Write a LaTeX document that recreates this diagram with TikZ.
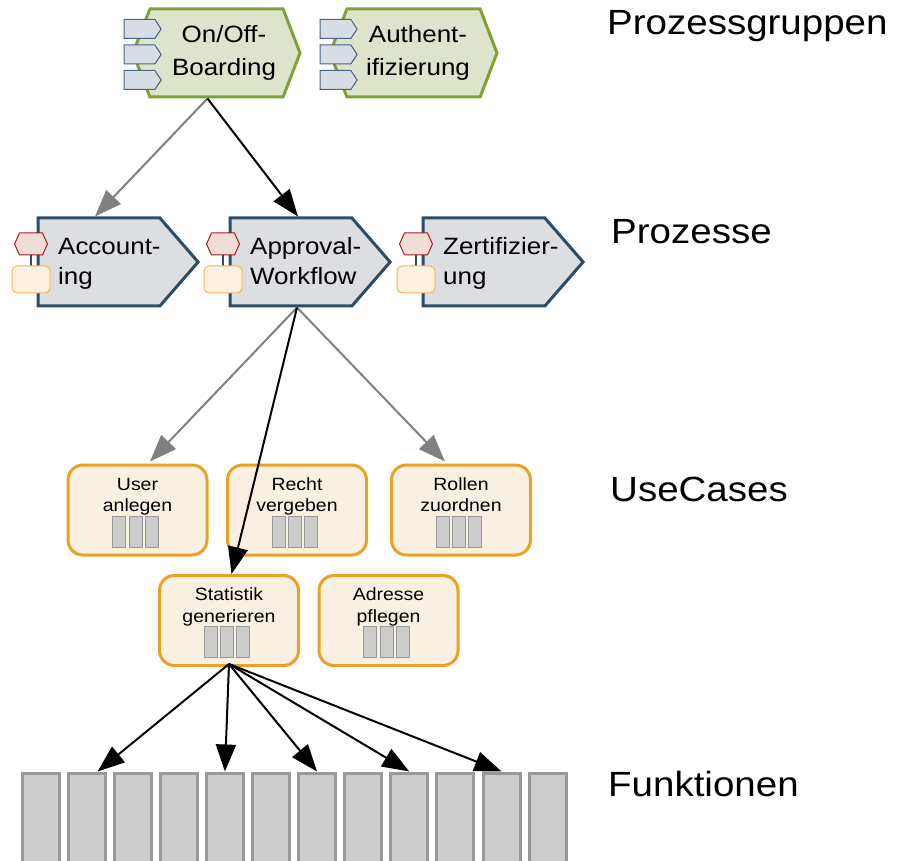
\documentclass[tikz,border=0pt]{standalone}
\usepackage{fontspec}
\setmainfont{Liberation Sans}[FakeStretch=1.1]
\usetikzlibrary{arrows.meta}
\usetikzlibrary{calc}
\usetikzlibrary{shapes.symbols}
\definecolor{pgfill}{RGB}{222,228,204}
\definecolor{pgline}{RGB}{128,160,56}
\definecolor{tabfill}{RGB}{216,221,229}
\definecolor{tabline}{RGB}{70,100,130}
\definecolor{procfill}{RGB}{220,222,226}
\definecolor{procline}{RGB}{44,76,104}
\definecolor{hexfill}{RGB}{240,221,213}
\definecolor{hexline}{RGB}{160,30,30}
\definecolor{evfill}{RGB}{252,241,222}
\definecolor{evline}{RGB}{240,184,90}
\definecolor{ucfill}{RGB}{250,240,225}
\definecolor{ucline}{RGB}{232,162,36}
\definecolor{fnfill}{RGB}{204,204,204}
\definecolor{fnline}{RGB}{153,153,153}
\definecolor{grayarrow}{RGB}{128,128,128}
\tikzset{pgshape/.style={signal,signal to=east and west,signal pointer angle=138,
		minimum width=167pt,minimum height=88pt,fill=pgfill,draw=pgline,line width=3pt,inner sep=0pt},
	pgtab/.style={signal,signal to=east,signal pointer angle=113,
		minimum width=37pt,minimum height=19pt,fill=tabfill,draw=tabline,line width=1pt,inner sep=0pt},
	procshape/.style={signal,signal to=east,signal pointer angle=98,
		minimum width=160pt,minimum height=88pt,fill=procfill,draw=procline,line width=3pt,inner sep=0pt},
	hexicon/.style={signal,signal to=east and west,signal pointer angle=131,
		minimum width=33pt,minimum height=22pt,fill=hexfill,draw=hexline,line width=1pt,inner sep=0pt},
	evicon/.style={rectangle,rounded corners=5pt,minimum width=38pt,minimum height=27pt,
		fill=evfill,draw=evline,line width=1pt,inner sep=0pt},
	usecase/.style={rectangle,rounded corners=15pt,minimum width=139pt,minimum height=90pt,
		fill=ucfill,draw=ucline,line width=3pt,inner sep=0pt,align=center,
		font=\fontsize{17.7}{21.7}\selectfont,text height=40.7pt,text depth=37.3pt},
	minibox/.style={rectangle,minimum width=13pt,minimum height=31pt,fill=fnfill,draw=fnline,line width=0.8pt,inner sep=0pt},
	fnbox/.style={rectangle,minimum width=37pt,minimum height=100pt,fill=fnfill,draw=fnline,line width=3pt,inner sep=0pt},
	bigtext/.style={inner sep=0pt},
	levelname/.style={font=\fontsize{35}{40}\selectfont,anchor=base west,inner sep=0pt}}

\begin{document}
\begin{tikzpicture}[x=1pt,y=-1pt]
	\useasboundingbox (0,0) rectangle (898,861);
	\clip (0,0) rectangle (898,861);
	% Prozessgruppen
	\node[pgshape] (onoff) at (216.5,53) {};
	\node[pgshape] (auth) at (413.5,53) {};
	\begin{scope}[every node/.style={pgtab}]
		\foreach \y/\k in {29/a,54.5/b,80/c} {
			\node (onoff\k) at (139.5,\y) {};
			\node (auth\k) at (335.5,\y) {};
		}
	\end{scope}
	\begin{scope}[every node/.style={bigtext,anchor=base,align=center,font=\fontsize{23.6}{33}\selectfont}]
		\node (onoffT) at (224,76) {On/Off-\\Boarding};
		\node (authT) at (418,76) {Authent-\\ifizierung};
	\end{scope}
	% Prozesse
	\begin{scope}[every node/.style={procshape}]
		\node (acc) at (99,262) {};
		\node (appr) at (291,262) {};
		\node (zert) at (484,262) {};
	\end{scope}
	\foreach \p/\x in {acc/31,appr/223,zert/416} {
		\coordinate (\p hx) at (\x,244);
		\coordinate (\p ev) at (\x,279.5);
		\draw[procline,line width=1.5pt] (\p hx) -- (\p ev);
		\node[hexicon] (\p hex) at (\p hx) {};
		\node[evicon] (\p evt) at (\p ev) {};
	}
	\begin{scope}[every node/.style={bigtext,anchor=base west,align=left,font=\fontsize{23.6}{30}\selectfont}]
		\node (accT) at (58,285) {Account-\\ing};
		\node (apprT) at (250,285) {Approval-\\Workflow};
		\node (zertT) at (443,285) {Zertifizier-\\ung};
	\end{scope}
	% UseCases
	\begin{scope}[every node/.style={usecase}]
		\node (user) at (137.5,510) {User\\anlegen};
		\node (recht) at (297,510) {Recht\\vergeben};
		\node (rollen) at (461,510) {Rollen\\zuordnen};
		\node (stat) at (229,620.5) {Statistik\\generieren};
		\node (addr) at (388.5,620.5) {Adresse\\pflegen};
	\end{scope}
	\foreach \u in {user,recht,rollen,stat,addr}
		\foreach \dx/\k in {-18.3/a,-2/b,14.3/c}
			\node[minibox] (\u\k) at ($(\u.center)+(\dx,21.5)$) {};
	% Funktionen
	\foreach \i in {1,...,12}
		\node[fnbox] (f\i) at ({40.5+(\i-1)*46.1},823) {};
	% Ebenen
	\node[levelname] (lpg) at (607,35) {Prozessgruppen};
	\node[levelname] (lproc) at (611,244) {Prozesse};
	\node[levelname] (luc) at (610,501.7) {UseCases};
	\node[levelname] (lfn) at (608,796.7) {Funktionen};
	% Pfeile
	\begin{scope}[>={Triangle[length=27pt,width=20pt]},
		every edge/.style={draw,line width=2pt}]
		\path [->,grayarrow] ($(onoff.south)+(-9,0)$) edge ($(acc.north)+(-4,0)$);
		\path [->,black] ($(onoff.south)+(-9,0)$) edge ($(appr.north)+(7,0)$);
		\path [->,grayarrow] ($(appr.south)+(6,0)$) edge ($(user.north)+(12.5,-2)$);
		\path [->,grayarrow] ($(appr.south)+(6,0)$) edge ($(rollen.north)+(-16,-2)$);
		\path [->,black] ($(appr.south)+(6,0)$) edge ($(stat.north)+(2.5,0)$);
		\path [->,black] ($(stat.south)+(0,-3)$) edge ($(f2.north)+(11,0)$);
		\path [->,black] ($(stat.south)+(0,-3)$) edge (f5.north);
		\path [->,black] ($(stat.south)+(0,-3)$) edge (f7.north);
		\path [->,black] ($(stat.south)+(0,-3)$) edge (f9.north);
		\path [->,black] ($(stat.south)+(0,-3)$) edge (f11.north);
	\end{scope}
\end{tikzpicture}
\end{document}
